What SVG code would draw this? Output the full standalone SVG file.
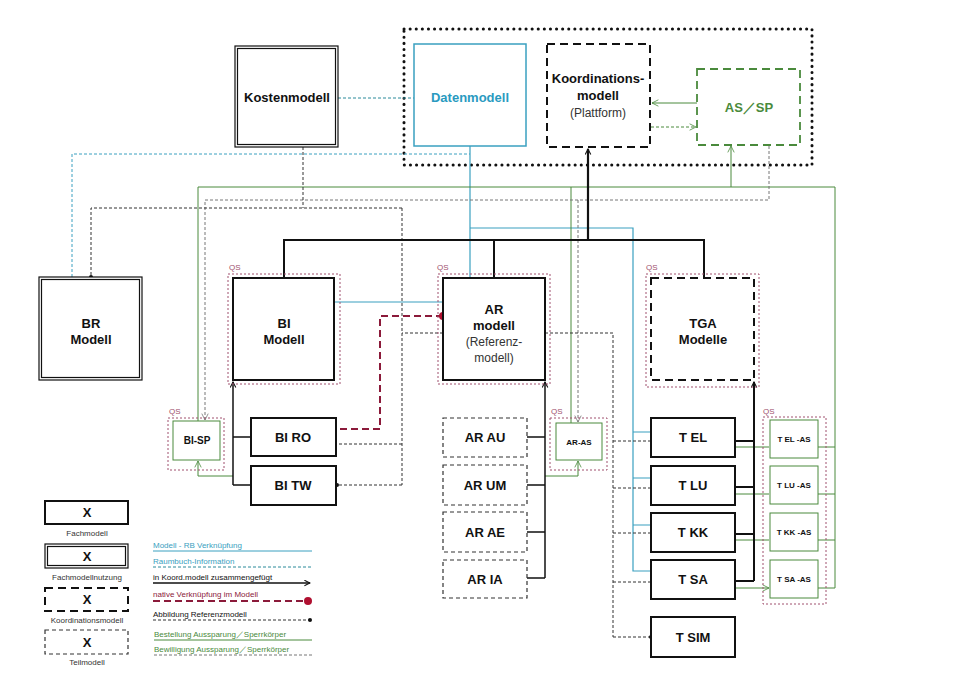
<svg xmlns="http://www.w3.org/2000/svg" width="960" height="678" viewBox="0 0 960 678">
<style>
text{font-family:"Liberation Sans",Arial,sans-serif;text-anchor:middle}
.b{font-weight:bold;font-size:13px;fill:#111}
.s{font-weight:bold;font-size:10px;fill:#111}
.f{fill:#fff;stroke:#111;stroke-width:2}
.dbl{fill:#fff;stroke:#111;stroke-width:1.2}
.kd{fill:#fff;stroke:#111;stroke-width:2;stroke-dasharray:8 5}
.td{fill:#fff;stroke:#333;stroke-width:1.2;stroke-dasharray:4 3}
.qs{fill:none;stroke:#a0506e;stroke-width:1;stroke-dasharray:2 2}
.ql{font-size:8px;fill:#a0506e;text-anchor:start}
.gb{fill:#fff;stroke:#4a8a3c;stroke-width:1}
.lt{font-size:8px;text-anchor:start}
.c path{fill:none}
</style>
<defs>
<marker id="ak" viewBox="0 0 10 10" refX="9" refY="5" markerWidth="7" markerHeight="7" orient="auto" markerUnits="userSpaceOnUse"><path d="M1,1 L9,5 L1,9" fill="none" stroke="#111" stroke-width="1.5"/></marker>
<marker id="ag" viewBox="0 0 10 10" refX="9" refY="5" markerWidth="8" markerHeight="8" orient="auto" markerUnits="userSpaceOnUse"><path d="M1,1 L9,5 L1,9" fill="none" stroke="#4a8a3c" stroke-width="1"/></marker>
<marker id="agr" viewBox="0 0 10 10" refX="9" refY="5" markerWidth="8" markerHeight="8" orient="auto" markerUnits="userSpaceOnUse"><path d="M1,1 L9,5 L1,9" fill="none" stroke="#777" stroke-width="1"/></marker>
<marker id="dot" viewBox="0 0 6 6" refX="3" refY="3" markerWidth="4" markerHeight="4" markerUnits="userSpaceOnUse"><circle cx="3" cy="3" r="3" fill="#111"/></marker>
<marker id="rdot" viewBox="0 0 6 6" refX="3" refY="3" markerWidth="8" markerHeight="8" markerUnits="userSpaceOnUse"><circle cx="3" cy="3" r="3" fill="#b01030"/></marker>
</defs>
<rect width="960" height="678" fill="#fff"/>

<!-- outer dotted box -->
<rect x="404" y="29" width="408" height="136" fill="none" stroke="#111" stroke-width="3" stroke-dasharray="0.1 6" stroke-linecap="round"/>

<g class="c" id="connectors">
<!-- blue -->
<path d="M338,98 H414" stroke="#2a8a9a" stroke-dasharray="3 2"/>
<path d="M72,277 V154 H470" stroke="#3aa0c0" stroke-dasharray="3 2"/>
<path d="M470,146 V278" stroke="#3aa0c0" stroke-width="1.2"/>
<path d="M470,228 H633 V571 H651 M633,432 H651 M633,478 H651 M633,525 H651" stroke="#3aa0c0" stroke-width="1.2"/>
<path d="M334,302 H443" stroke="#3aa0c0" stroke-width="1.2"/>
<!-- green solid -->
<path d="M198,421 V187 H835 V588 M571,187 V423 M818,447 H835 M818,494 H835 M818,540 H835 M818,588 H835" stroke="#4a8a3c"/>
<path d="M731,187 V146" stroke="#4a8a3c" marker-end="url(#ag)"/>
<path d="M697,103 H652" stroke="#4a8a3c" marker-end="url(#ag)"/>
<path d="M651,127 H696" stroke="#4a8a3c" stroke-dasharray="3 2" marker-end="url(#ag)"/>
<path d="M233,476 H198 V461" stroke="#4a8a3c" marker-end="url(#ag)"/>
<path d="M545,476 H578 V461" stroke="#4a8a3c" marker-end="url(#ag)"/>
<path d="M735,447 H769 M735,494 H769 M735,540 H769 M735,588 H769" stroke="#4a8a3c" marker-end="url(#ag)"/>
<!-- grey dashed bewilligung -->
<path d="M769,146 V200 H205 V420" stroke="#777" stroke-dasharray="3 2" marker-end="url(#agr)"/>
<path d="M578,200 V422" stroke="#777" stroke-dasharray="3 2" marker-end="url(#agr)"/>
<!-- black dashed Abbildung -->
<path d="M303,147 V208" stroke="#333" stroke-dasharray="3 2"/>
<path d="M402,208 H91 V277" stroke="#333" stroke-dasharray="3 2" marker-end="url(#dot)"/>
<path d="M402,208 V485" stroke="#333" stroke-dasharray="3 2"/>
<path d="M443,333 H402" stroke="#333" stroke-dasharray="3 2"/>
<path d="M402,444 H337 M402,485 H337" stroke="#333" stroke-dasharray="3 2" marker-end="url(#dot)"/>
<path d="M545,333 H613 V637" stroke="#333" stroke-dasharray="3 2"/>
<path d="M613,441 H651 M613,488 H651 M613,533 H651 M613,582 H651 M613,637 H651" stroke="#333" stroke-dasharray="3 2" marker-end="url(#dot)"/>
<!-- red native -->
<path d="M443,316 H380 V429 H337" stroke="#8b1a3a" stroke-width="2" stroke-dasharray="7 4" marker-start="url(#rdot)"/>
<!-- black thick -->
<path d="M588,240 V149" stroke="#111" stroke-width="2.2" marker-end="url(#ak)"/>
<path d="M284,278 V240 H704 V278 M494,240 V278" stroke="#111" stroke-width="2"/>
<path d="M233,485 V382" stroke="#111" stroke-width="1.5" marker-end="url(#ak)"/>
<path d="M233,437 H251 M233,485 H251" stroke="#111" stroke-width="1.5"/>
<path d="M545,578 V382" stroke="#111" stroke-width="1.5" marker-end="url(#ak)"/>
<path d="M527,437 H545 M527,485 H545 M527,532 H545 M527,578 H545" stroke="#111" stroke-width="1.5"/>
<path d="M754,581 V382" stroke="#111" stroke-width="2" marker-end="url(#ak)"/>
<path d="M735,441 H754 M735,487 H754 M735,534 H754 M735,581 H754" stroke="#111" stroke-width="2"/>
</g>

<!-- QS boxes -->
<g id="qs">
<rect class="qs" x="228" y="274" width="112" height="110"/><text class="ql" x="229" y="270">QS</text>
<rect class="qs" x="438" y="274" width="112" height="110"/><text class="ql" x="437" y="270">QS</text>
<rect class="qs" x="646" y="274" width="113" height="113"/><text class="ql" x="646" y="270">QS</text>
<rect class="qs" x="168" y="418" width="56" height="52"/><text class="ql" x="169" y="414">QS</text>
<rect class="qs" x="550" y="418" width="57" height="52"/><text class="ql" x="551" y="414">QS</text>
<rect class="qs" x="763" y="417" width="63" height="187"/><text class="ql" x="763" y="414">QS</text>
</g>

<g id="datenmodell"><rect x="414" y="44" width="112" height="102" fill="#fff" stroke="#3aa0c0" stroke-width="1.5"/><text x="470" y="102" class="b" style="fill:#2a9ac0">Datenmodell</text></g>
<g id="koord"><rect class="kd" x="547" y="44" width="103" height="103"/><text x="598" y="83" class="b">Koordinations-</text><text x="598" y="100" class="b">modell</text><text x="598" y="117" font-size="12" fill="#333">(Plattform)</text></g>
<g id="assp"><rect x="697" y="69" width="103" height="76" fill="#fff" stroke="#4a8a3c" stroke-width="1.8" stroke-dasharray="8 5"/><text x="749" y="112" class="b" style="fill:#4a8a3c">AS／SP</text></g>
<g id="kosten"><rect class="dbl" x="235" y="46" width="103" height="101"/><rect class="dbl" x="237.5" y="48.5" width="98" height="96" fill="none"/><text x="287" y="102" class="b">Kostenmodell</text></g>
<g id="br"><rect class="dbl" x="39" y="277" width="103" height="103"/><rect class="dbl" x="41.5" y="279.5" width="98" height="98" fill="none"/><text x="91" y="328" class="b">BR</text><text x="91" y="344" class="b">Modell</text></g>
<g id="bi"><rect class="f" x="233" y="278" width="101" height="102"/><text x="284" y="328" class="b">BI</text><text x="284" y="344" class="b">Modell</text></g>
<g id="ar"><rect class="f" x="443" y="278" width="102" height="102"/><text x="494" y="314" class="b">AR</text><text x="494" y="330" class="b">modell</text><text x="494" y="346" font-size="12" fill="#333">(Referenz-</text><text x="494" y="362" font-size="12" fill="#333">modell)</text></g>
<g id="tga"><rect class="kd" x="651" y="278" width="103" height="102"/><text x="703" y="328" class="b">TGA</text><text x="703" y="344" class="b">Modelle</text></g>

<g id="biro"><rect class="f" x="251" y="418" width="85" height="38"/><text x="293" y="442" class="b">BI RO</text></g>
<g id="bitw"><rect class="f" x="251" y="466" width="85" height="39"/><text x="293" y="490" class="b">BI TW</text></g>
<g id="bisp"><rect class="gb" x="173" y="421" width="47" height="39"/><text x="197" y="444" class="s" font-size="8">BI-SP</text></g>
<g id="arau"><rect class="td" x="443" y="418" width="84" height="39"/><text x="485" y="442" class="b">AR AU</text></g>
<g id="arum"><rect class="td" x="443" y="465" width="84" height="40"/><text x="485" y="490" class="b">AR UM</text></g>
<g id="arae"><rect class="td" x="443" y="512" width="84" height="40"/><text x="485" y="537" class="b">AR AE</text></g>
<g id="aria"><rect class="td" x="443" y="560" width="84" height="38"/><text x="485" y="584" class="b">AR IA</text></g>
<g id="aras"><rect class="gb" x="556" y="423" width="46" height="37"/><text x="579" y="445" class="s" style="font-size:8px">AR-AS</text></g>
<g id="tel"><rect class="f" x="651" y="418" width="84" height="39"/><text x="693" y="442" class="b">T EL</text></g>
<g id="tlu"><rect class="f" x="651" y="466" width="84" height="39"/><text x="693" y="490" class="b">T LU</text></g>
<g id="tkk"><rect class="f" x="651" y="513" width="84" height="39"/><text x="693" y="537" class="b">T KK</text></g>
<g id="tsa"><rect class="f" x="651" y="560" width="84" height="39"/><text x="693" y="584" class="b">T SA</text></g>
<g id="tsim"><rect class="f" x="651" y="617" width="84" height="40"/><text x="693" y="642" class="b">T SIM</text></g>
<g id="telas"><rect class="gb" x="770" y="420" width="48" height="38"/><text x="794" y="442" class="s" style="font-size:8px">T EL -AS</text></g>
<g id="tluas"><rect class="gb" x="770" y="466" width="48" height="38"/><text x="794" y="488" class="s" style="font-size:8px">T LU -AS</text></g>
<g id="tkkas"><rect class="gb" x="770" y="513" width="48" height="38"/><text x="794" y="535" class="s" style="font-size:8px">T KK -AS</text></g>
<g id="tsaas"><rect class="gb" x="770" y="560" width="48" height="38"/><text x="794" y="582" class="s" style="font-size:8px">T SA -AS</text></g>

<g id="legend">
<rect class="f" x="45" y="501" width="83" height="23"/><text x="87" y="517" class="b">X</text><text x="87" y="536" font-size="8" fill="#333">Fachmodell</text>
<rect class="dbl" x="45" y="544" width="83" height="24"/><rect class="dbl" x="47.5" y="546.5" width="78" height="19" fill="none"/><text x="87" y="561" class="b">X</text><text x="87" y="580" font-size="8" fill="#333">Fachmodellnutzung</text>
<rect class="kd" x="45" y="588" width="83" height="23"/><text x="87" y="604" class="b">X</text><text x="87" y="623" font-size="8" fill="#333">Koordinationsmodell</text>
<rect class="td" x="45" y="630" width="83" height="24"/><text x="87" y="647" class="b">X</text><text x="87" y="665" font-size="8" fill="#333">Teilmodell</text>
<text class="lt" x="153" y="548" fill="#3aa0c0">Modell - RB Verknüpfung</text><path d="M153,551 H312" stroke="#3aa0c0"/>
<text class="lt" x="153" y="564" fill="#3aa0c0">Raumbuch-Information</text><path d="M153,567 H312" stroke="#2a8a9a" stroke-dasharray="3 2"/>
<text class="lt" x="153" y="580" fill="#111">in Koord.modell zusammengefügt</text><path d="M153,583 H310" stroke="#111" stroke-width="1.5" marker-end="url(#ak)"/>
<text class="lt" x="153" y="597" fill="#8b1a3a">native Verknüpfung im Modell</text><path d="M153,601 H308" stroke="#8b1a3a" stroke-width="2" stroke-dasharray="7 4" marker-end="url(#rdot)"/>
<text class="lt" x="153" y="617" fill="#111">Abbildung Referenzmodell</text><path d="M153,620 H310" stroke="#333" stroke-dasharray="3 2" marker-end="url(#dot)"/>
<text class="lt" x="154" y="637" fill="#4a8a3c">Bestellung Aussparung／Sperrkörper</text><path d="M154,640 H312" stroke="#4a8a3c"/>
<text class="lt" x="154" y="652" fill="#4a8a3c">Bewilligung Aussparung／Sperrkörper</text><path d="M154,655 H312" stroke="#777" stroke-dasharray="3 2"/>
</g>
</svg>
